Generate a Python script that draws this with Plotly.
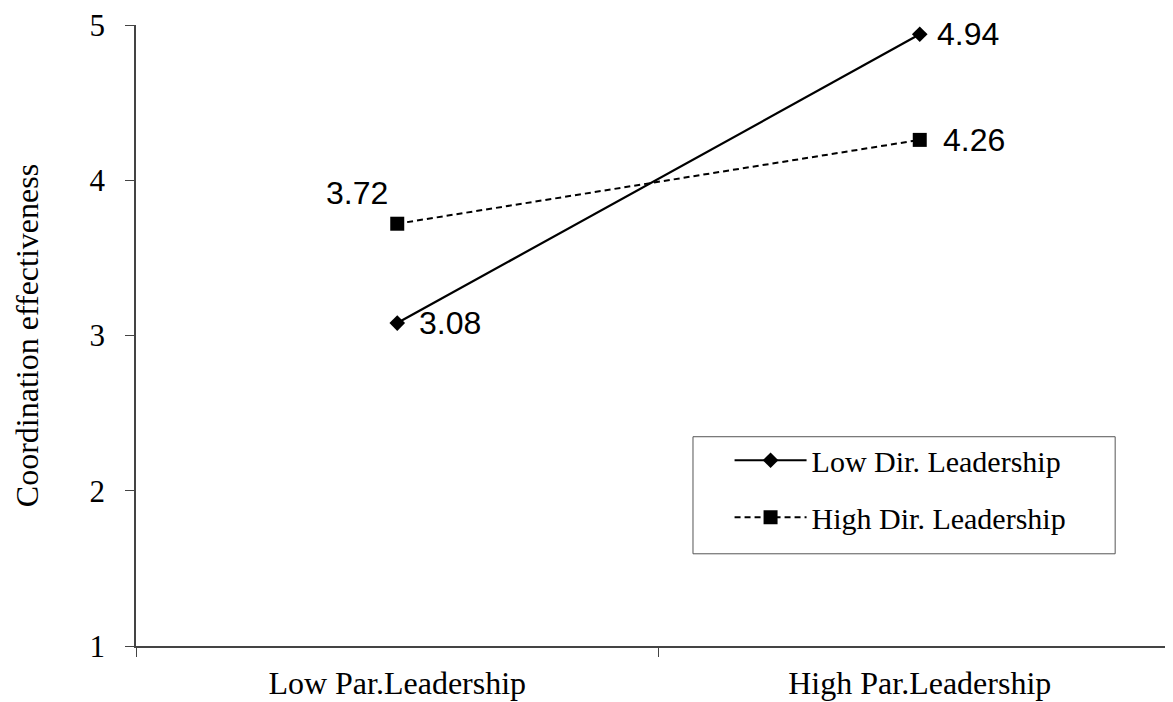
import plotly.graph_objects as go

categories = ["Low Par.Leadership", "High Par.Leadership"]
low_dir = [3.08, 4.94]
high_dir = [3.72, 4.26]
series_names = ["Low Dir. Leadership", "High Dir. Leadership"]
y_ticks = [1, 2, 3, 4, 5]

serif = "Liberation Serif, Times New Roman, serif"
sans = "Liberation Sans, Arial, sans-serif"

fig = go.Figure()
fig.add_trace(go.Scatter(
    x=categories, y=low_dir, name=series_names[0], legendgroup="a",
    mode="lines+markers",
    line=dict(color="black", width=2.2),
    marker=dict(symbol="diamond", size=12, color="black"),
    cliponaxis=False,
))
fig.add_trace(go.Scatter(
    x=categories, y=high_dir, name=series_names[1], legendgroup="b",
    mode="lines+markers",
    line=dict(color="black", width=2, dash="6px,4px"),
    marker=dict(symbol="square", size=14, color="black"),
    cliponaxis=False,
))

# value labels (offsets are styling only; values come from the data lists)
label_specs = [
    (categories[0], low_dir[0], "left", "middle", 20, 0),
    (categories[1], low_dir[1], "left", "middle", 15, 0),
    (categories[0], high_dir[0], "center", "middle", -40, 31),
    (categories[1], high_dir[1], "left", "middle", 21, 0),
]
for xv, yv, xa, ya, dx, dy in label_specs:
    fig.add_annotation(
        x=xv, y=yv, text=f"{yv:.2f}", showarrow=False,
        xanchor=xa, yanchor=ya, xshift=dx, yshift=dy,
        font=dict(family=sans, size=32, color="black"),
    )

# legend frame
fig.add_shape(type="rect", xref="paper", yref="paper",
              x0=0.533, x1=0.937, y0=0.1485, y1=0.3370,
              line=dict(color="#555555", width=1), fillcolor="white", layer="below")

fig.update_layout(
    width=1173, height=702,
    margin=dict(l=128, r=0, t=17, b=64, autoexpand=False),
    paper_bgcolor="white", plot_bgcolor="white",
    font=dict(family=serif, size=32, color="black"),
    showlegend=True,
    legend=dict(
        x=0.568, y=0.341, xanchor="left", yanchor="top",
        borderwidth=0, bgcolor="rgba(0,0,0,0)",
        font=dict(family=serif, size=30, color="black"),
        tracegroupgap=15,
        itemwidth=72,
    ),
    xaxis=dict(
        type="category", range=[-0.5, 1.5], automargin=False,
        showline=True, linecolor="#444444", linewidth=1.5,
        ticks="outside", tickson="boundaries", ticklen=9, tickcolor="#444444",
        showgrid=False, zeroline=False,
        tickfont=dict(family=serif, size=32, color="black"),
        ticklabelstandoff=8,
    ),
    yaxis=dict(
        range=[1, 5], tickvals=y_ticks, automargin=False,
        showline=True, linecolor="#444444", linewidth=1.5,
        ticks="outside", ticklen=9, tickcolor="#444444",
        showgrid=False, zeroline=False,
        tickfont=dict(family=serif, size=31, color="black"),
        ticklabelstandoff=14, ticklabeloverflow="allow",
        title=dict(text="Coordination effectiveness", standoff=41,
                   font=dict(family=serif, size=32, color="black")),
    ),
)

fig.write_html("out.html")
